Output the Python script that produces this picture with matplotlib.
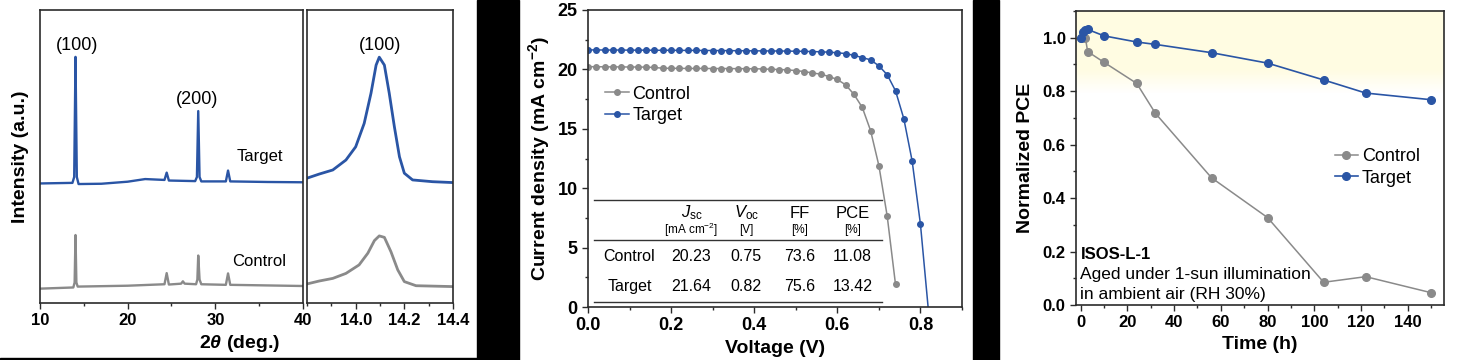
import matplotlib
matplotlib.use('Agg')
import matplotlib.pyplot as plt
from matplotlib.patches import Rectangle
from matplotlib.ticker import MultipleLocator
import numpy as np

plt.rcParams['font.family'] = ['Liberation Sans', 'DejaVu Sans']
plt.rcParams['font.weight'] = 'bold'
plt.rcParams['axes.labelweight'] = 'bold'
plt.rcParams['mathtext.fontset'] = 'custom'
plt.rcParams['mathtext.rm'] = 'Liberation Sans:normal'
plt.rcParams['mathtext.it'] = 'Liberation Sans:italic:normal'
plt.rcParams['mathtext.bf'] = 'Liberation Sans:bold'
plt.rcParams['mathtext.bfit'] = 'Liberation Sans:bold:italic'

blue = '#2a55a5'
gray = '#8a8a8a'
spine = '#2b2b2b'

# ---- XRD (panel 1) ----
xrd_t_x = [10, 13.7, 13.9, 14.0, 14.05, 14.1, 14.2, 14.4, 17, 20, 22, 24.2, 24.45, 24.7,
           27.7, 27.9, 28.05, 28.2, 28.4, 31.2, 31.45, 31.7, 36, 40]
xrd_t_y = [40.8, 41.0, 43, 70, 84, 70, 43, 40.6, 40.7, 41.4, 42.3, 42.0, 44.5, 41.8,
           41.6, 43, 65.5, 43, 41.5, 41.5, 45.2, 41.5, 41.3, 41.2]
xrd_c_x = [10, 13.8, 13.95, 14.05, 14.15, 14.3, 20, 24.2, 24.45, 24.7, 26.1, 26.3, 26.5,
           27.8, 27.95, 28.05, 28.2, 28.4, 31.2, 31.45, 31.7, 40]
xrd_c_y = [4.9, 5.3, 7, 23.2, 7, 5.6, 5.9, 6.4, 10.2, 6.3, 6.6, 7.4, 6.6,
           6.4, 8, 16.2, 8, 6.4, 6.2, 10.1, 6.2, 5.8]

zoom_t_x = [13.80, 13.85, 13.906, 13.96, 14.0, 14.035, 14.063, 14.084, 14.097, 14.118,
            14.138, 14.159, 14.18, 14.2, 14.234, 14.316, 14.4]
zoom_t_y = [42.6, 44.0, 45.4, 48.8, 53.3, 61.3, 71.6, 81.2, 83.9, 81.2,
            71.6, 60.2, 49.9, 44.3, 42.0, 41.4, 41.1]
zoom_c_x = [13.80, 13.85, 13.906, 13.96, 14.014, 14.05, 14.077, 14.097, 14.118, 14.145,
            14.173, 14.2, 14.248, 14.4]
zoom_c_y = [6.5, 7.5, 8.4, 10.1, 13.0, 17.0, 21.3, 22.9, 22.4, 17.5,
            11.3, 7.3, 5.9, 5.6]

# ---- J-V (panel 2) ----
volt = [0.00, 0.02, 0.04, 0.06, 0.08, 0.10, 0.12, 0.14, 0.16, 0.18, 0.20, 0.22, 0.24,
        0.26, 0.28, 0.30, 0.32, 0.34, 0.36, 0.38, 0.40, 0.42, 0.44, 0.46, 0.48, 0.50,
        0.52, 0.54, 0.56, 0.58, 0.60, 0.62, 0.64, 0.66, 0.68, 0.70, 0.72, 0.74, 0.76,
        0.78, 0.80, 0.82]
j_control = [20.23, 20.22, 20.22, 20.21, 20.21, 20.20, 20.20, 20.19, 20.16, 20.10, 20.09,
             20.09, 20.08, 20.08, 20.08, 20.07, 20.07, 20.07, 20.06, 20.06, 20.05, 20.04,
             20.01, 19.99, 19.96, 19.90, 19.82, 19.70, 19.60, 19.40, 19.15, 18.70, 17.90,
             16.80, 14.85, 11.90, 7.65, 1.90]
j_target = [21.64, 21.64, 21.63, 21.63, 21.63, 21.62, 21.62, 21.62, 21.61, 21.61, 21.61,
            21.60, 21.60, 21.60, 21.59, 21.59, 21.58, 21.58, 21.57, 21.57, 21.56, 21.56,
            21.55, 21.55, 21.54, 21.53, 21.52, 21.50, 21.48, 21.45, 21.40, 21.33, 21.18,
            21.00, 20.80, 20.30, 19.55, 18.20, 15.85, 12.30, 6.97, -0.6]

table_cols = [r'$\mathit{J}_{\rm sc}$', r'$\mathit{V}_{\rm oc}$', 'FF', 'PCE']
table_units = [r'[mA cm$^{-2}$]', '[V]', '[%]', '[%]']
table_rows = ['Control', 'Target']
table_vals = [['20.23', '0.75', '73.6', '11.08'],
              ['21.64', '0.82', '75.6', '13.42']]

# ---- stability (panel 3) ----
time_target = [0, 1, 2, 3, 10, 24, 32, 56, 80, 104, 122, 150]
pce_target = [1.0, 1.02, 1.028, 1.031, 1.007, 0.984, 0.975, 0.944, 0.905, 0.842, 0.793, 0.768]
time_control = [0, 2, 3, 10, 24, 32, 56, 80, 104, 122, 150]
pce_control = [1.0, 1.0, 0.948, 0.908, 0.829, 0.717, 0.476, 0.327, 0.085, 0.106, 0.046]

W, H = 1457, 360
fig = plt.figure(figsize=(W / 100, H / 100), dpi=100)


def px_axes(l, r, t, b):
    return fig.add_axes([l / W, 1 - b / H, (r - l) / W, (b - t) / H])


def style(ax, size=12):
    for s in ax.spines.values():
        s.set_color(spine)
        s.set_linewidth(1.2)
    ax.tick_params(which='major', direction='out', length=4, width=1, color=spine,
                   labelsize=size)
    ax.tick_params(which='minor', direction='out', length=2, width=1, color=spine)


normal = {'fontweight': 'normal'}
leg_kw = dict(loc='upper left', frameon=False, handlelength=1.3, handletextpad=0.2,
              labelspacing=0.25, borderpad=0, borderaxespad=0,
              prop={'size': 13, 'weight': 'normal'})

# panel 1 main
ax1 = px_axes(40, 303, 10, 303)
ax1.plot(xrd_t_x, xrd_t_y, color=blue, lw=1.7)
ax1.plot(xrd_c_x, xrd_c_y, color=gray, lw=1.7)
ax1.set_xlim(10, 40)
ax1.set_ylim(0, 100)
ax1.set_yticks([])
ax1.xaxis.set_major_locator(MultipleLocator(10))
ax1.xaxis.set_minor_locator(MultipleLocator(5))
style(ax1)
ax1.text(14.2, 88, '(100)', ha='center', va='center', fontsize=13, **normal)
ax1.text(27.9, 69.5, '(200)', ha='center', va='center', fontsize=13, **normal)
ax1.text(35.1, 50, 'Target', ha='center', va='center', fontsize=12, **normal)
ax1.text(35.0, 14, 'Control', ha='center', va='center', fontsize=12, **normal)
ax1.set_ylabel('Intensity (a.u.)', fontsize=14, labelpad=8)

# panel 1 zoom
ax1b = px_axes(307, 453, 10, 303)
ax1b.plot(zoom_t_x, zoom_t_y, color=blue, lw=2)
ax1b.plot(zoom_c_x, zoom_c_y, color=gray, lw=2)
ax1b.set_xlim(13.8, 14.4)
ax1b.set_ylim(0, 100)
ax1b.set_yticks([])
ax1b.set_xticks([14.0, 14.2, 14.4])
ax1b.xaxis.set_minor_locator(MultipleLocator(0.1))
style(ax1b)
ax1b.text(14.1, 88, '(100)', ha='center', va='center', fontsize=13, **normal)
fig.text(240 / W, 1 - 343 / H, r'2$\mathbfit{\theta}$ (deg.)', ha='center', va='center',
         fontsize=14)

# panel 2
ax2 = px_axes(588, 962, 10, 307)
ax2.plot(volt[:len(j_control)], j_control, color=gray, lw=1.1, marker='o', ms=4,
         label='Control')
ax2.plot(volt, j_target, color=blue, lw=1.1, marker='o', ms=4, label='Target')
ax2.set_xlim(0, 0.9)
ax2.set_ylim(0, 25)
ax2.xaxis.set_major_locator(MultipleLocator(0.2))
ax2.xaxis.set_minor_locator(MultipleLocator(0.1))
ax2.yaxis.set_major_locator(MultipleLocator(5))
ax2.yaxis.set_minor_locator(MultipleLocator(2.5))
ax2.xaxis.set_major_formatter(plt.FormatStrFormatter('%.1f'))
style(ax2, 13)
ax2.set_xlabel('Voltage (V)', fontsize=14, labelpad=4)
ax2.set_ylabel(r'Current density (mA cm$^{\mathbf{-2}}$)', fontsize=14, labelpad=4)
ax2.legend(bbox_to_anchor=(0.046, 0.745), **leg_kw)
for y in [9.0, 5.6, 0.4]:
    ax2.axhline(y, xmin=0.0156, xmax=0.786, color='#333333', lw=1)
col_x = [0.249, 0.381, 0.509, 0.637]
for cx, head, unit in zip(col_x, table_cols, table_units):
    ax2.text(cx, 7.9, head, ha='center', va='center', fontsize=12, **normal)
    ax2.text(cx, 6.45, unit, ha='center', va='center', fontsize=8.5, **normal)
for ry, name, vals in zip([4.27, 1.74], table_rows, table_vals):
    ax2.text(0.10, ry, name, ha='center', va='center', fontsize=11.5, **normal)
    for cx, v in zip(col_x, vals):
        ax2.text(cx, ry, v, ha='center', va='center', fontsize=11.5, **normal)

# panel 3
ax3 = px_axes(1076, 1444, 11, 305)
# pale yellow band at the top, fading out near 0.8
band_y = np.linspace(1.1, 0.79, 100)
grad = np.zeros((100, 2, 4))
grad[:, :, 0] = 1.0
grad[:, :, 1] = 0.99
grad[:, :, 2] = 0.87
grad[:, :, 3] = np.clip((band_y - 0.79) / 0.09, 0, 1)[:, None] * 0.85
ax3.imshow(grad, extent=[-2, 155.5, 0.79, 1.1], aspect='auto', zorder=0)
ax3.plot(time_control, pce_control, color=gray, lw=1.1, marker='o', ms=5.5,
         label='Control')
ax3.plot(time_target, pce_target, color=blue, lw=1.2, marker='o', ms=5.5,
         label='Target')
ax3.set_xlim(-2, 155.5)
ax3.set_ylim(0, 1.1)
ax3.xaxis.set_major_locator(MultipleLocator(20))
ax3.xaxis.set_minor_locator(MultipleLocator(10))
ax3.yaxis.set_major_locator(MultipleLocator(0.2))
ax3.yaxis.set_minor_locator(MultipleLocator(0.1))
ax3.yaxis.set_major_formatter(plt.FormatStrFormatter('%.1f'))
style(ax3, 12)
ax3.set_xlabel('Time (h)', fontsize=14, labelpad=4)
ax3.set_ylabel('Normalized PCE', fontsize=14, labelpad=6)
ax3.legend(bbox_to_anchor=(0.703, 0.534), **leg_kw)
ax3.text(0.012, 0.172, 'ISOS-L-1', transform=ax3.transAxes, fontsize=12, va='center')
ax3.text(0.012, 0.103, 'Aged under 1-sun illumination', transform=ax3.transAxes,
         fontsize=12.5, va='center', **normal)
ax3.text(0.012, 0.035, 'in ambient air (RH 30%)', transform=ax3.transAxes,
         fontsize=12.5, va='center', **normal)

# black separators
fig.patches.append(Rectangle((477 / W, 0), 42 / W, 1, transform=fig.transFigure,
                             color='black', zorder=10))
fig.patches.append(Rectangle((973 / W, 0), 26 / W, 1, transform=fig.transFigure,
                             color='black', zorder=10))
fig.patches.append(Rectangle((0, 0), 477 / W, 2 / H, transform=fig.transFigure,
                             color='black', zorder=10))

fig.savefig('out.png', dpi=100)
